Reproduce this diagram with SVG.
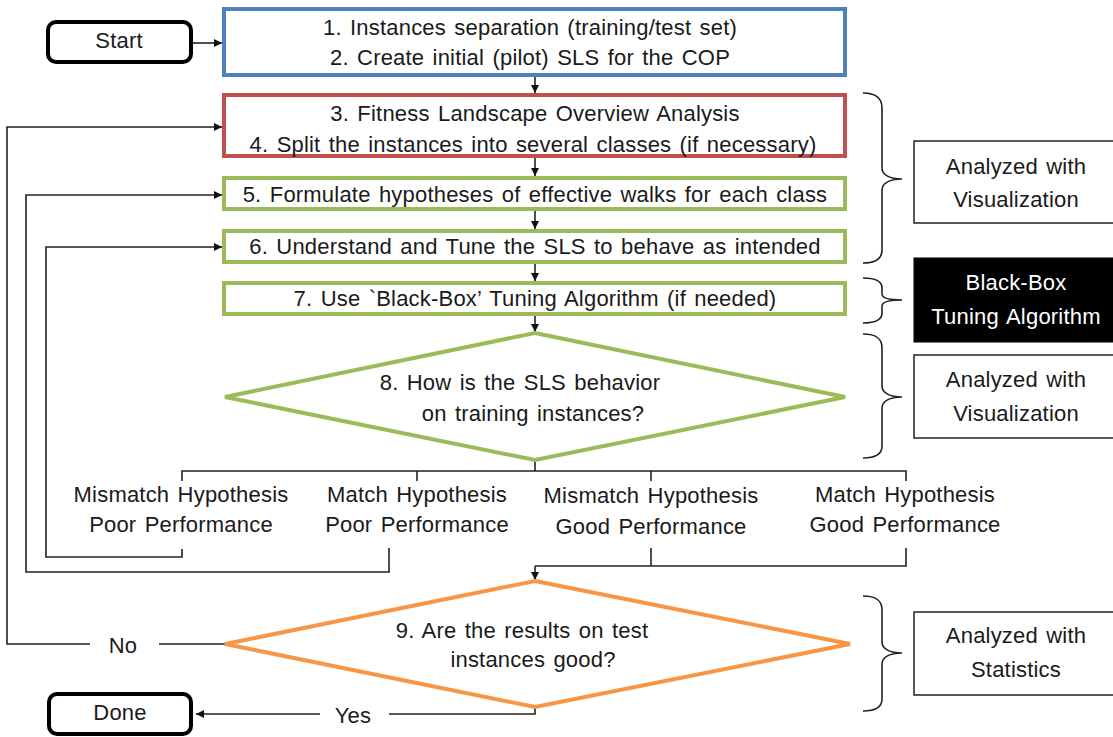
<svg xmlns="http://www.w3.org/2000/svg" width="1113" height="737" viewBox="0 0 1113 737">
<defs>
<marker id="ah" viewBox="0 0 10 10" refX="10" refY="5" markerWidth="8" markerHeight="8" markerUnits="userSpaceOnUse" orient="auto">
<path d="M0,0 L10,5 L0,10 z" fill="#111"/>
</marker>
<style>
text{font-family:"Liberation Sans",Arial,sans-serif;font-size:22px;word-spacing:2px;letter-spacing:0.2px;fill:#1a1a1a;text-anchor:middle}
.term{fill:#fff;stroke:#000;stroke-width:4}
.blue{fill:#fff;stroke:#4F81BD;stroke-width:4}
.red{fill:#fff;stroke:#C0504D;stroke-width:4}
.green{fill:#fff;stroke:#9BBB59;stroke-width:4}
.orange{fill:#fff;stroke:#F79646;stroke-width:4}
.side{fill:#fff;stroke:#222;stroke-width:1.5}
.blk{fill:#000;stroke:#000}
.wt{fill:#fff}
.c{fill:none;stroke:#222;stroke-width:1.6}
.ca{fill:none;stroke:#222;stroke-width:1.6;marker-end:url(#ah)}
.br{fill:none;stroke:#222;stroke-width:1.6}
</style>
</defs>
<rect width="1113" height="737" fill="#fff"/>

<g id="connectors">
<line class="ca" x1="193" y1="43" x2="222" y2="43"/>
<line class="ca" x1="535" y1="77" x2="535" y2="93"/>
<line class="ca" x1="535" y1="158" x2="535" y2="176"/>
<line class="ca" x1="535" y1="211" x2="535" y2="229"/>
<line class="ca" x1="535" y1="264" x2="535" y2="281"/>
<line class="ca" x1="535" y1="316" x2="535" y2="332"/>
<polyline class="c" points="535,460 535,471"/>
<polyline class="c" points="182,481 182,471 906,471 906,481"/>
<line class="c" x1="417" y1="471" x2="417" y2="481"/>
<line class="c" x1="651" y1="471" x2="651" y2="481"/>
<polyline class="ca" points="182,549 182,557 46,557 46,247 222,247"/>
<polyline class="ca" points="389,548 389,572 26,572 26,195 222,195"/>
<polyline class="c" points="651,548 651,566"/>
<polyline class="c" points="906,548 906,566 535,566"/>
<line class="ca" x1="535" y1="566" x2="535" y2="580"/>
<line class="c" x1="225" y1="644" x2="159" y2="644"/>
<polyline class="ca" points="90,644 7,644 7,127 222,127"/>
<polyline class="c" points="535,707 535,714 389,714"/>
<line class="ca" x1="320" y1="714" x2="196" y2="714"/>
<path class="br" d="M863,93 C876,93 882,98 882,108 L882,168 C882,175 890,179 902,179 C890,179 882,183 882,190 L882,250 C882,259 876,263 863,263"/>
<path class="br" d="M863,278 C876,278 882,281 882,288 L882,294 C882,298 890,300 902,300 C890,300 882,302 882,306 L882,313 C882,320 876,323 863,323"/>
<path class="br" d="M863,334 C876,334 882,338 882,348 L882,386 C882,393 890,397 902,397 C890,397 882,401 882,408 L882,446 C882,454 876,458 863,458"/>
<path class="br" d="M863,596 C876,596 882,600 882,610 L882,642 C882,649 890,653 902,653 C890,653 882,657 882,664 L882,699 C882,707 876,711 863,711"/>
</g>

<g id="start">
<rect class="term" x="48" y="22" width="143" height="40" rx="8"/>
<text x="119" y="48">Start</text>
</g>

<g id="step12">
<rect class="blue" x="224" y="9" width="621" height="66"/>
<text x="530" y="35">1. Instances separation (training/test set)</text>
<text x="530" y="65">2. Create initial (pilot) SLS for the COP</text>
</g>

<g id="step34">
<rect class="red" x="224" y="95" width="621" height="61"/>
<text x="535" y="121">3. Fitness Landscape Overview Analysis</text>
<text x="533" y="152">4. Split the instances into several classes (if necessary)</text>
</g>

<g id="step5">
<rect class="green" x="224" y="178" width="621" height="31"/>
<text x="535" y="202">5. Formulate hypotheses of effective walks for each class</text>
</g>

<g id="step6">
<rect class="green" x="224" y="231" width="621" height="31"/>
<text x="535" y="254">6. Understand and Tune the SLS to behave as intended</text>
</g>

<g id="step7">
<rect class="green" x="224" y="283" width="621" height="31"/>
<text x="535" y="306">7. Use `Black-Box’ Tuning Algorithm (if needed)</text>
</g>

<g id="step8">
<polygon class="green" points="535,333 845,397 535,460 225,397"/>
<text x="520" y="390">8. How is the SLS behavior</text>
<text x="533" y="421">on training instances?</text>
</g>

<g id="outcomes">
<text x="181" y="502">Mismatch Hypothesis</text>
<text x="181" y="532">Poor Performance</text>
<text x="417" y="502">Match Hypothesis</text>
<text x="417" y="532">Poor Performance</text>
<text x="651" y="503">Mismatch Hypothesis</text>
<text x="651" y="534">Good Performance</text>
<text x="905" y="502">Match Hypothesis</text>
<text x="905" y="532">Good Performance</text>
</g>

<g id="step9">
<polygon class="orange" points="535,581 850,644 535,707 225,644"/>
<text x="522" y="638">9. Are the results on test</text>
<text x="533" y="667">instances good?</text>
</g>

<g id="labels">
<text x="123" y="653">No</text>
<text x="353" y="723">Yes</text>
</g>

<g id="done">
<rect class="term" x="49" y="694" width="142" height="40" rx="8"/>
<text x="120" y="720">Done</text>
</g>

<g id="vis1">
<rect class="side" x="914" y="141" width="210" height="82"/>
<text x="1016" y="174">Analyzed with</text>
<text x="1016" y="207">Visualization</text>
</g>

<g id="blackbox">
<rect class="blk" x="914" y="258" width="210" height="84"/>
<text class="wt" x="1016" y="290">Black-Box</text>
<text class="wt" x="1016" y="324">Tuning Algorithm</text>
</g>

<g id="vis2">
<rect class="side" x="914" y="355" width="210" height="83"/>
<text x="1016" y="387">Analyzed with</text>
<text x="1016" y="421">Visualization</text>
</g>

<g id="stats">
<rect class="side" x="914" y="612" width="210" height="83"/>
<text x="1016" y="643">Analyzed with</text>
<text x="1016" y="677">Statistics</text>
</g>
</svg>
